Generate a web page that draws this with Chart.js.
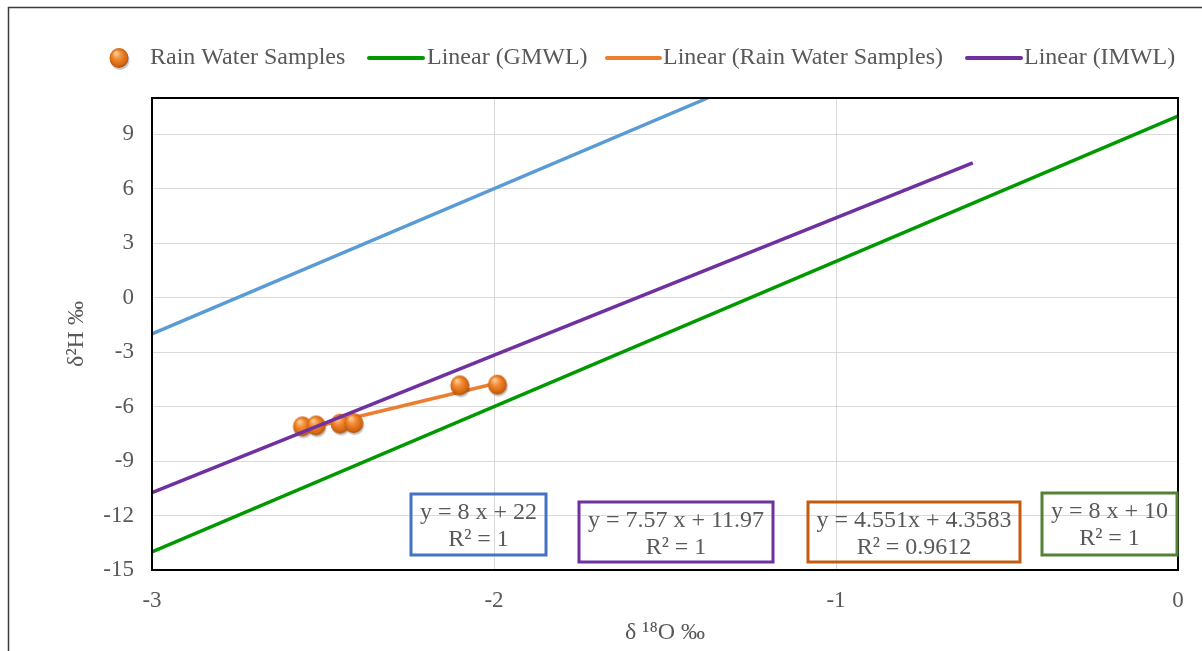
<!DOCTYPE html>
<html>
<head>
<meta charset="utf-8">
<script src="https://cdn.jsdelivr.net/npm/chart.js@4/dist/chart.umd.min.js"></script>
<style>
  html, body { margin: 0; padding: 0; background: #fff; }
  #wrap { width: 1202px; height: 651px; }
</style>
</head>
<body>
<div id="wrap"><canvas id="isoChart" width="1202" height="651"></canvas></div>
<script>
// Rain water samples
const rainX = [-2.56, -2.52, -2.45, -2.41, -2.10, -1.99];
const rainY = [-7.09, -7.04, -6.94, -6.91, -4.83, -4.79];

// trend line end points
const rainFitX = [-2.56, -1.99];
const rainFitY = [-7.29, -4.70];
const gmwlX = [-3, 0];
const gmwlY = [-14, 10];
const imwlX = [-3, -0.6];
const imwlY = [-10.74, 7.43];
const blueX = [-3, -1.375];
const blueY = [-2, 11];

// axis ticks
const xTicks = [-3, -2, -1, 0];
const yTicks = [-15, -12, -9, -6, -3, 0, 3, 6, 9];

// equation labels
const eqLine1 = ['y = 8 x + 22', 'y = 7.57 x + 11.97', 'y = 4.551x + 4.3583', 'y = 8 x + 10'];
const eqLine2 = ['R\u00b2 = 1', 'R\u00b2 = 1', 'R\u00b2 = 0.9612', 'R\u00b2 = 1'];

const legendNames = ['Rain Water Samples', 'Linear (GMWL)', 'Linear (Rain Water Samples)', 'Linear (IMWL)'];

const GREEN = '#009a00';
const ORANGE = '#ed7d31';
const PURPLE = '#7030a0';
const BLUE = '#5b9bd5';
const TXT = '#595959';
const SERIF = '"Liberation Serif", "Times New Roman", serif';

function pts(xs, ys) {
    return xs.map((x, i) => ({ x: x, y: ys[i] }));
}

// little orange ball for the markers
function makeBall() {
    const c = document.createElement('canvas');
    c.width = 26; c.height = 26;
    const g = c.getContext('2d');
    g.fillStyle = 'rgba(0,0,0,0.22)';
    g.beginPath(); g.ellipse(14, 15, 9.5, 10, 0, 0, Math.PI * 2); g.fill();
    const grad = g.createRadialGradient(10, 8, 1, 13, 13, 10.5);
    grad.addColorStop(0, '#fcc891');
    grad.addColorStop(0.35, '#f28c35');
    grad.addColorStop(0.8, '#d4650f');
    grad.addColorStop(1, '#9c4a0e');
    g.fillStyle = grad;
    g.beginPath(); g.ellipse(13, 13, 9.5, 10, 0, 0, Math.PI * 2); g.fill();
    return c;
}
const ball = makeBall();

const boxPlugin = {
    id: 'boxes',
    afterDraw(chart) {
        const ctx = chart.ctx;
        ctx.save();
        // outer frame
        ctx.strokeStyle = '#3a3a3a';
        ctx.lineWidth = 1.5;
        ctx.beginPath();
        ctx.moveTo(8.5, 700); ctx.lineTo(8.5, 7.5); ctx.lineTo(1210, 7.5);
        ctx.stroke();

        // plot area border
        const a = chart.chartArea;
        ctx.strokeStyle = '#000';
        ctx.lineWidth = 2;
        ctx.strokeRect(a.left, a.top, a.right - a.left, a.bottom - a.top);

        // equation boxes
        const boxes = [
            { x: 411, y: 494, w: 135, h: 61, c: '#4472c4' },
            { x: 579, y: 502, w: 194, h: 60, c: PURPLE },
            { x: 808, y: 502, w: 212, h: 60, c: '#c55a11' },
            { x: 1042, y: 493, w: 135, h: 62, c: '#548235' }
        ];
        ctx.font = '24px ' + SERIF;
        ctx.textAlign = 'center';
        ctx.textBaseline = 'middle';
        boxes.forEach((b, i) => {
            ctx.strokeStyle = b.c;
            ctx.lineWidth = 3;
            ctx.strokeRect(b.x, b.y, b.w, b.h);
            ctx.fillStyle = TXT;
            ctx.fillText(eqLine1[i], b.x + b.w / 2, b.y + 19);
            ctx.fillText(eqLine2[i], b.x + b.w / 2, b.y + 46);
        });

        // legend
        const ly = 58;
        ctx.textAlign = 'left';
        ctx.drawImage(ball, 119 - 13, ly - 13);
        ctx.fillStyle = TXT;
        ctx.fillText(legendNames[0], 150, ly);
        const items = [
            { x0: 369, x1: 423, tx: 427, c: GREEN, t: legendNames[1] },
            { x0: 607, x1: 660, tx: 663, c: ORANGE, t: legendNames[2] },
            { x0: 967, x1: 1021, tx: 1024, c: PURPLE, t: legendNames[3] }
        ];
        ctx.lineCap = 'round';
        items.forEach(it => {
            ctx.strokeStyle = it.c;
            ctx.lineWidth = 4;
            ctx.beginPath(); ctx.moveTo(it.x0, ly); ctx.lineTo(it.x1, ly); ctx.stroke();
            ctx.fillStyle = TXT;
            ctx.fillText(it.t, it.tx, ly);
        });
        ctx.restore();
    }
};

const lineSet = (data, color, order) => ({
    type: 'line',
    data: data,
    borderColor: color,
    borderWidth: 3.5,
    pointRadius: 0,
    fill: false,
    tension: 0,
    order: order
});

const ctxIso = document.getElementById('isoChart').getContext('2d');
const isoChart = new Chart(ctxIso, {
    type: 'scatter',
    data: {
        datasets: [
            lineSet(pts(imwlX, imwlY), PURPLE, 0),
            {
                label: 'Rain Water Samples',
                data: pts(rainX, rainY),
                pointStyle: ball,
                pointRadius: 11,
                showLine: false,
                order: 1
            },
            lineSet(pts(rainFitX, rainFitY), ORANGE, 2),
            lineSet(pts(gmwlX, gmwlY), GREEN, 3),
            lineSet(pts(blueX, blueY), BLUE, 4)
        ]
    },
    options: {
        responsive: false,
        animation: false,
        devicePixelRatio: 1,
        layout: { padding: { top: 98, right: 24, left: 0, bottom: 0 } },
        plugins: {
            legend: { display: false },
            tooltip: { enabled: false }
        },
        scales: {
            x: {
                type: 'linear',
                min: -3,
                max: 0,
                afterBuildTicks: s => { s.ticks = xTicks.map(v => ({ value: v })); },
                afterFit: s => { s.height = 81; },
                grid: { color: '#d9d9d9', lineWidth: 1, drawTicks: false },
                border: { display: false },
                ticks: { color: TXT, font: { family: SERIF, size: 23 }, padding: 17, maxRotation: 0 },
                title: { display: true, text: '\u03b4 \u00b9\u2078O \u2030', color: TXT, font: { family: SERIF, size: 24 }, padding: { top: 0, bottom: 4 } }
            },
            y: {
                type: 'linear',
                min: -15,
                max: 11,
                afterBuildTicks: s => { s.ticks = yTicks.map(v => ({ value: v })); },
                afterFit: s => { s.width = 152; },
                grid: { color: '#d9d9d9', lineWidth: 1, drawTicks: false },
                border: { display: false },
                ticks: { color: TXT, font: { family: SERIF, size: 23 }, padding: 18 },
                title: { display: true, text: '\u03b4\u00b2H \u2030', color: TXT, font: { family: SERIF, size: 24 }, padding: { top: 62, bottom: 0 } }
            }
        }
    },
    plugins: [boxPlugin]
});
</script>
</body>
</html>
